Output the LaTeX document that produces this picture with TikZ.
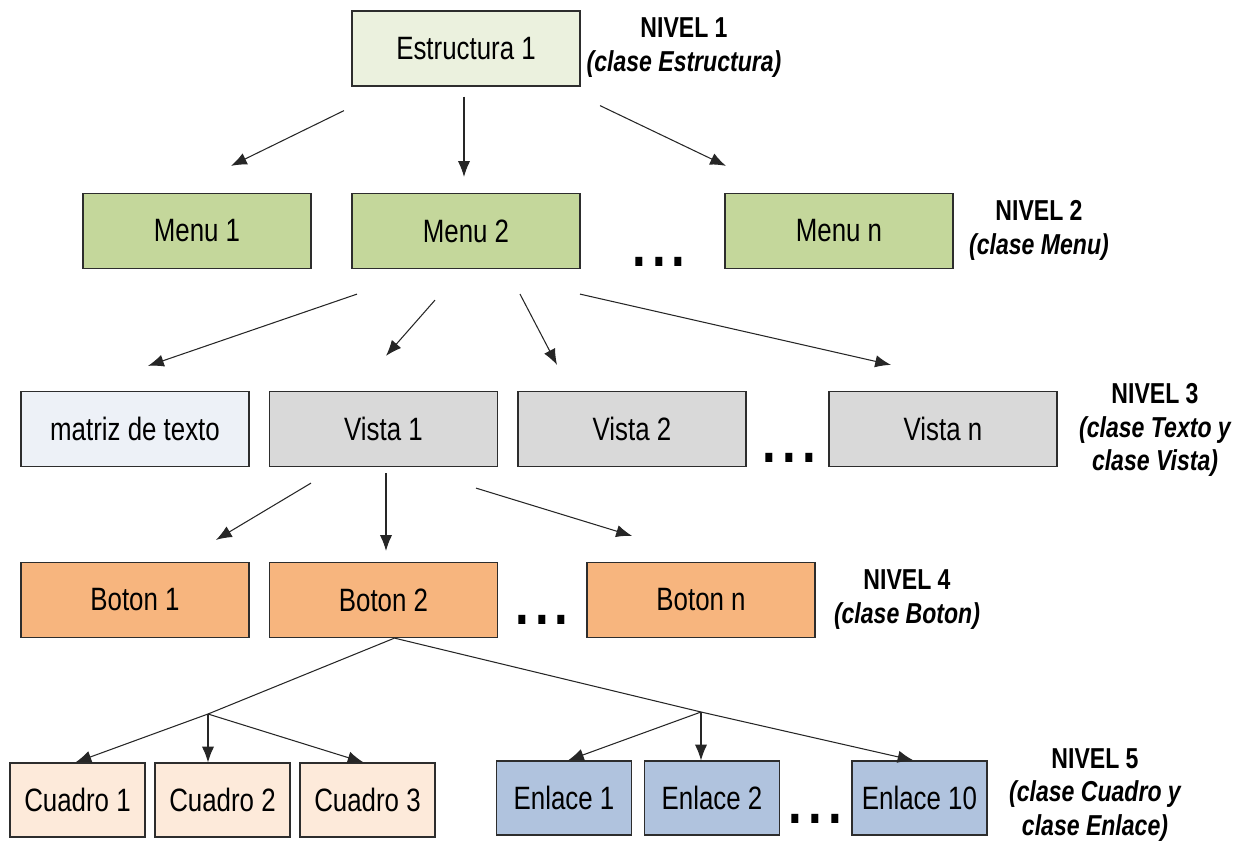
\documentclass[tikz,border=0pt]{standalone}
\usepackage{fontspec}
\setmainfont{Liberation Sans}[FakeStretch=0.80]
\usetikzlibrary{arrows.meta,calc}
\definecolor{NivLine}{RGB}{45,45,45}
\definecolor{NivEstructura}{RGB}{235,241,222}
\definecolor{NivMenu}{RGB}{196,215,155}
\definecolor{NivTexto}{RGB}{237,241,247}
\definecolor{NivVista}{RGB}{217,217,217}
\definecolor{NivBoton}{RGB}{247,181,126}
\definecolor{NivCuadro}{RGB}{253,234,218}
\definecolor{NivEnlace}{RGB}{176,195,222}
\tikzset{
  niv/box/.style={
    draw=NivLine,
    line width=0.7pt,
    align=center,
    text=black,
    inner sep=0pt,
    minimum width=4.56cm,
    minimum height=1.5cm,
    font=\fontsize{18.4}{22}\selectfont
  },
  niv/small/.style={niv/box, minimum width=2.7cm, minimum height=1.48cm},
  niv/estructura/.style={niv/box, fill=NivEstructura},
  niv/menu/.style={niv/box, fill=NivMenu},
  niv/texto/.style={niv/box, fill=NivTexto},
  niv/vista/.style={niv/box, fill=NivVista},
  niv/boton/.style={niv/box, fill=NivBoton},
  niv/cuadro/.style={niv/small, fill=NivCuadro},
  niv/enlace/.style={niv/small, fill=NivEnlace},
  niv/arrow/.style={-{Latex[length=9pt,width=7pt]}, line width=0.6pt, draw=black!85},
  niv/line/.style={line width=0.6pt, draw=black!85},
  niv/label/.style={font=\bfseries\fontsize{16.4}{19.3}\selectfont, align=center, inner sep=0pt},
  niv/dots/.style={font=\bfseries\fontsize{35}{35}\selectfont, inner sep=0pt}
}
\begin{document}
\begin{tikzpicture}[x=0.02cm,y=-0.02cm]
  \useasboundingbox (0,0) rectangle (1244,844);
  % nivel 1
  \node[niv/estructura] (est) at (466,48.5) {Estructura 1};
  \node[niv/label] (lab1) at (684,48) {NIVEL 1\\\itshape(clase Estructura)};
  % nivel 2
  \node[niv/menu] (menu1) at (197,231) {Menu 1};
  \node[niv/menu] (menu2) at (466,231) {Menu 2};
  \node[niv/menu] (menun) at (839,231) {Menu n};
  \node[niv/dots] (dots2) at (659,262) {.\kern3.5pt.\kern3.5pt.};
  \node[niv/label] (lab2) at (1039,230) {NIVEL 2\\\itshape(clase Menu)};
  % nivel 3
  \node[niv/texto] (matriz) at (135,429) {matriz de texto};
  \node[niv/vista] (vista1) at (383.5,429) {Vista 1};
  \node[niv/vista] (vista2) at (632,429) {Vista 2};
  \node[niv/vista] (vistan) at (943,429) {Vista n};
  \node[niv/dots] (dots3) at (789.5,458) {.\kern3.5pt.\kern3.5pt.};
  \node[niv/label] (lab3) at (1155,430) {NIVEL 3\\\itshape(clase Texto y\\\itshape clase Vista)};
  % nivel 4
  \node[niv/boton] (boton1) at (135,600) {Boton 1};
  \node[niv/boton] (boton2) at (383.5,600) {Boton 2};
  \node[niv/boton] (botonn) at (701,600) {Boton n};
  \node[niv/dots] (dots4) at (542,620) {.\kern3.5pt.\kern3.5pt.};
  \node[niv/label] (lab4) at (907,600) {NIVEL 4\\\itshape(clase Boton)};
  % nivel 5
  \node[niv/cuadro] (cuadro1) at (77.5,800) {Cuadro 1};
  \node[niv/cuadro] (cuadro2) at (222.5,800) {Cuadro 2};
  \node[niv/cuadro] (cuadro3) at (367.5,800) {Cuadro 3};
  \node[niv/enlace] (enlace1) at (564,798) {Enlace 1};
  \node[niv/enlace] (enlace2) at (712,798) {Enlace 2};
  \node[niv/enlace] (enlace10) at (919.5,798) {Enlace 10};
  \node[niv/dots] (dots5) at (815.5,819) {.\kern3.5pt.\kern3.5pt.};
  \node[niv/label] (lab5) at (1095,795) {NIVEL 5\\\itshape(clase Cuadro y\\\itshape clase Enlace)};
  % conexiones
  \draw[niv/arrow] ($(est.south)+(-122,24)$) -- ($(menu1.north)+(34,-27)$);
  \draw[niv/arrow] ($(est.south)+(-2,10)$) -- ($(menu2.north)+(-2,-16)$);
  \draw[niv/arrow] ($(est.south)+(134,19)$) -- ($(menun.north)+(-113,-27)$);
  \draw[niv/arrow] ($(menu2.south)+(-109,25)$) -- ($(matriz.north)+(13,-25)$);
  \draw[niv/arrow] ($(menu2.south)+(-31,31)$) -- ($(vista1.north)+(2.5,-35)$);
  \draw[niv/arrow] ($(menu2.south)+(54,25)$) -- ($(vista2.north)+(-75,-26)$);
  \draw[niv/arrow] ($(menu2.south)+(114,25)$) -- ($(vistan.north)+(-52,-26)$);
  \draw[niv/arrow] ($(vista1.south)+(-72.5,16)$) -- ($(boton1.north)+(81,-22)$);
  \draw[niv/arrow] ($(vista1.south)+(2.5,6)$) -- ($(boton2.north)+(2.5,-11)$);
  \draw[niv/arrow] ($(vista1.south)+(92.5,21)$) -- ($(botonn.north)+(-69,-26)$);
  \coordinate (forkc) at (208,714);
  \coordinate (forke) at (701,712);
  \draw[niv/line] ($(boton2.south)+(11,0)$) -- (forkc);
  \draw[niv/line] ($(boton2.south)+(11,0)$) -- (forke);
  \draw[niv/arrow] (forkc) -- ($(cuadro1.north)+(-2,0)$);
  \draw[niv/arrow] (forkc) -- (forkc |- cuadro2.north);
  \draw[niv/arrow] (forkc) -- ($(cuadro3.north)+(-4,0)$);
  \draw[niv/arrow] (forke) -- ($(enlace1.north)+(4,0)$);
  \draw[niv/arrow] (forke) -- (forke |- enlace2.north);
  \draw[niv/arrow] (forke) -- ($(enlace10.north)+(-6,0)$);
\end{tikzpicture}
\end{document}
